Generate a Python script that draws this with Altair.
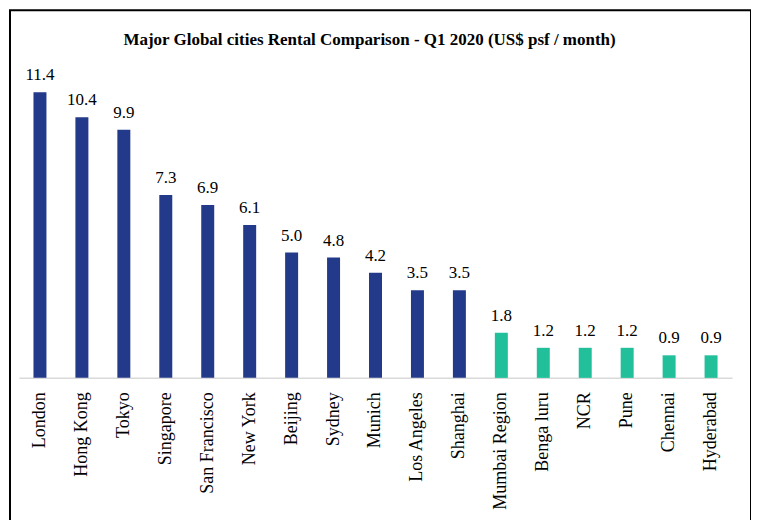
import altair as alt
import pandas as pd

cities = ["London", "Hong Kong", "Tokyo", "Singapore", "San Francisco", "New York",
          "Beijing", "Sydney", "Munich", "Los Angeles", "Shanghai", "Mumbai Region",
          "Benga luru", "NCR", "Pune", "Chennai", "Hyderabad"]
rents = [11.4, 10.4, 9.9, 7.3, 6.9, 6.1, 5.0, 4.8, 4.2, 3.5, 3.5, 1.8, 1.2, 1.2, 1.2, 0.9, 0.9]
groups = ["Global"] * 11 + ["India"] * 6
title_text = "Major  Global  cities Rental Comparison  - Q1 2020 (US$ psf / month)"

df = pd.DataFrame({"city": cities, "rent": rents, "group": groups})
df["label"] = [f"{v:.1f}" for v in rents]

W, H = 742, 540
BASE = 368

xs = alt.X("city:N", sort=cities,
           scale=alt.Scale(range=[9, 723], paddingInner=0, paddingOuter=0),
           axis=alt.Axis(title=None, orient="bottom", offset=BASE - H, labelAngle=-90,
                         labelAlign="right", labelBaseline="middle", labelPadding=14,
                         labelFont="Liberation Serif", labelFontSize=18, labelColor="#000000",
                         ticks=False, domainColor="#d9d9d9", domainWidth=1.5, grid=False,
                         labelOverlap=False))
ys = alt.Y("rent:Q", scale=alt.Scale(domain=[0, 12], range=[BASE, BASE - 25.09 * 12]),
           axis=None)

base = alt.Chart(df)
bars = base.mark_bar(size=13).encode(
    x=xs, y=ys,
    color=alt.Color("group:N", scale=alt.Scale(domain=["Global", "India"],
                                               range=["#233A8B", "#21BF9A"]), legend=None))
labels = base.mark_text(baseline="bottom", dy=-8, font="Liberation Serif", fontSize=17,
                        color="#000000").encode(x=xs, y=ys, text="label:N")
title = alt.Chart(pd.DataFrame({"t": [title_text]})).mark_text(
    font="Liberation Serif", fontSize=17, fontWeight="bold", color="#000000",
    baseline="middle", align="center").encode(
    x=alt.value(360), y=alt.value(30), text="t:N")

chart = alt.layer(bars, labels, title).properties(
    width=W, height=H,
    autosize=alt.AutoSizeParams(type="none"),
    padding={"left": 2, "top": 2, "right": 0, "bottom": 0},
    background="#ffffff",
).configure_view(stroke="#000000", strokeWidth=2)

chart.save("out.html", embed_options={"renderer": "svg", "actions": False})
